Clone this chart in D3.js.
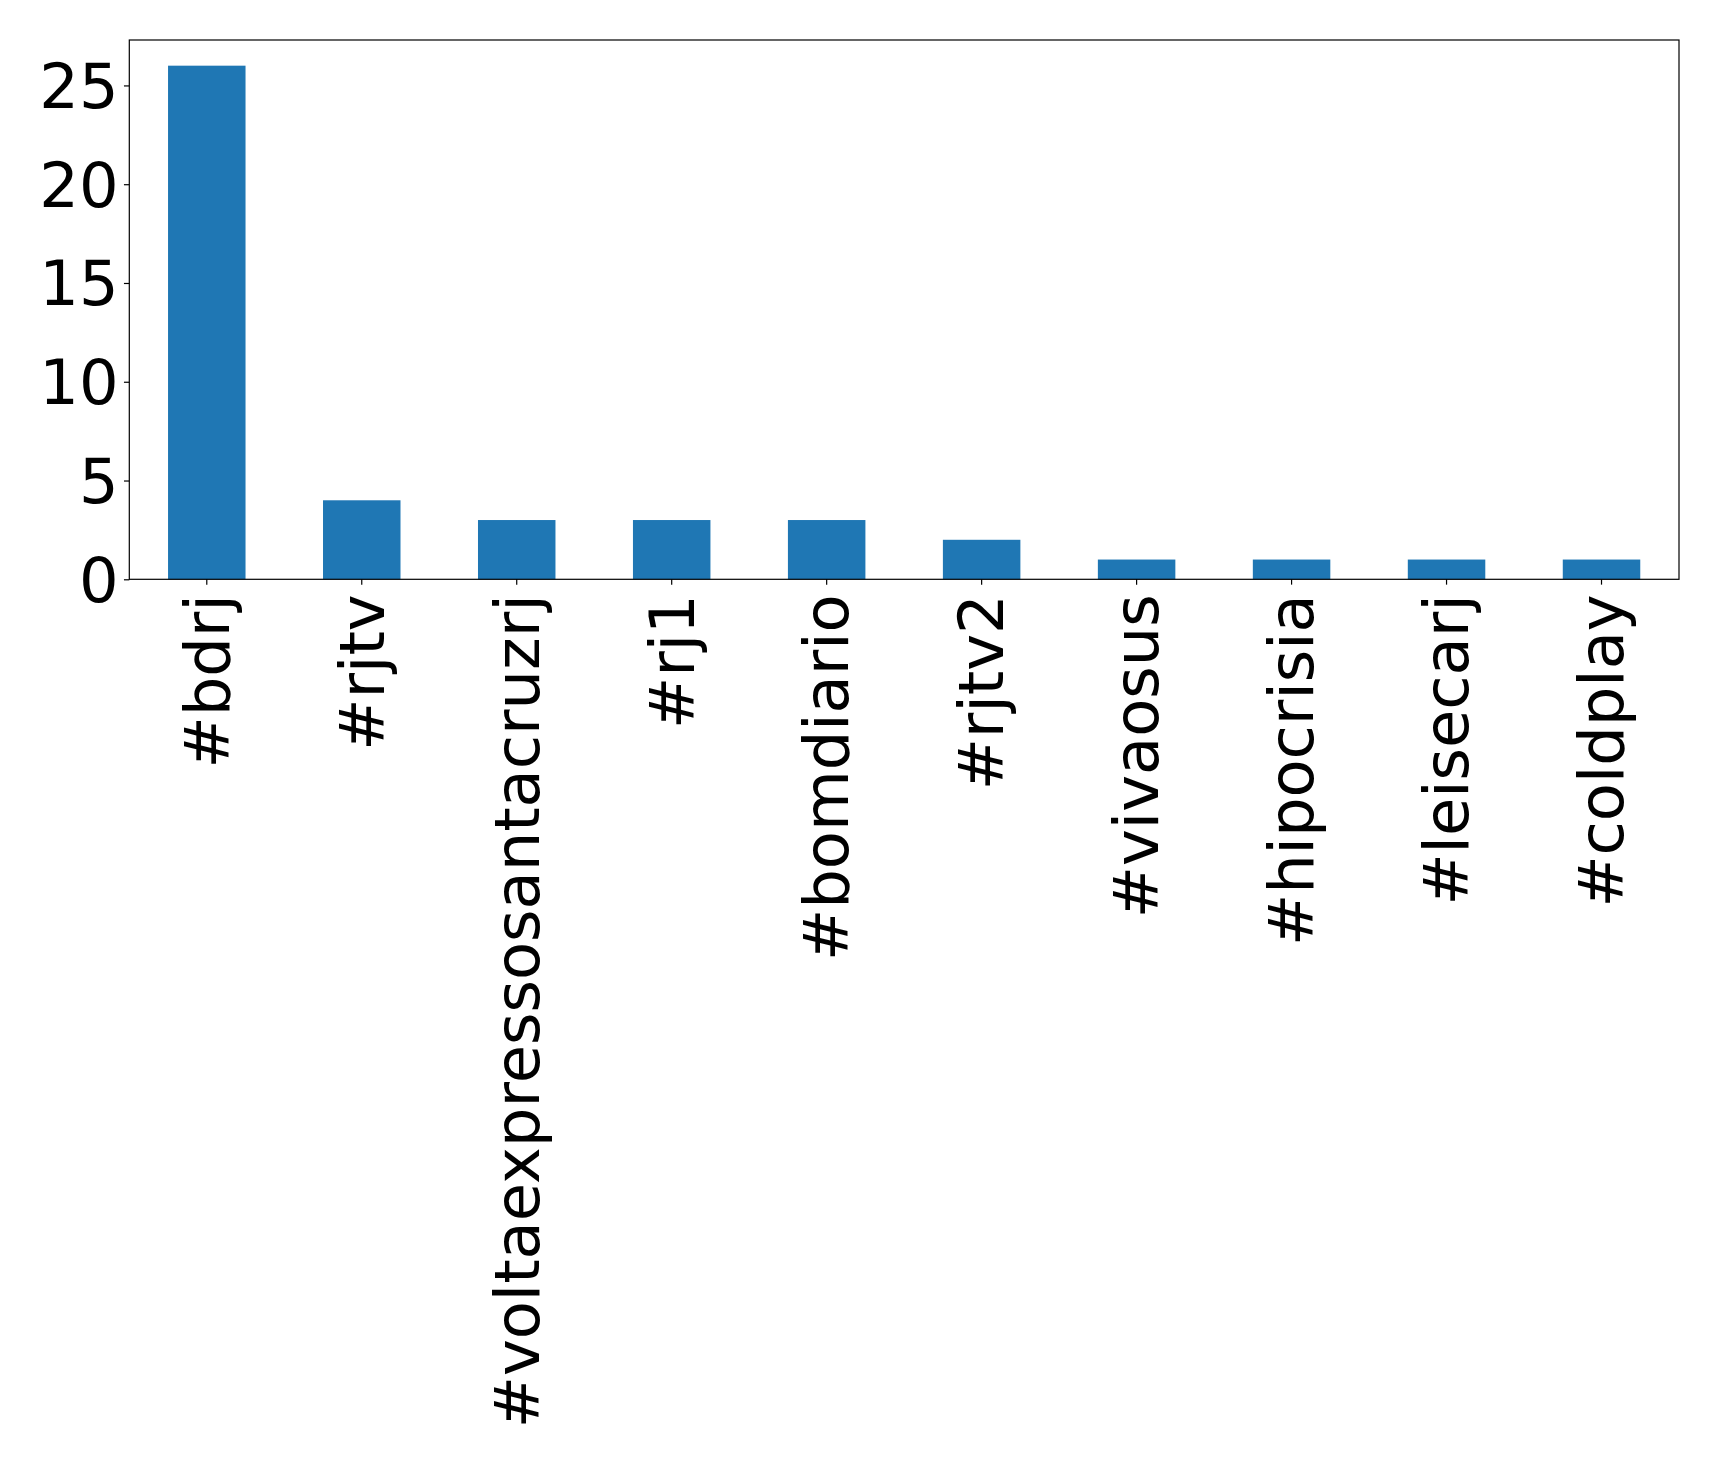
<!DOCTYPE html>
<html>
<head>
<meta charset="utf-8">
<script src="https://cdn.jsdelivr.net/npm/d3@7"></script>
<style>
  html, body { margin: 0; padding: 0; background: #fff; }
  svg { display: block; }
  text { font-family: "DejaVu Sans", sans-serif; fill: #000; }
</style>
</head>
<body>
<script>
const categories = ["#bdrj", "#rjtv", "#voltaexpressosantacruzrj", "#rj1", "#bomdiario",
                    "#rjtv2", "#vivaosus", "#hipocrisia", "#leisecarj", "#coldplay"];
const counts = [26, 4, 3, 3, 3, 2, 1, 1, 1, 1];
const yTicks = [0, 5, 10, 15, 20, 25];

(function () {
const W = 1719, H = 1465;
const mLeft = 129.3, mRight = 1679, mTop = 40, mBottom = 579.3;
const fontSize = 62.3;
const tickLen = 5.35, pad = 5.35, xLabelOffset = 15;

const svg = d3.select("body").append("svg").attr("width", W).attr("height", H);

const x = d3.scaleBand().domain(categories).range([mLeft, mRight])
  .paddingInner(0.5).paddingOuter(0.25);
const yMax = d3.max(counts) * 1.05;
const y = d3.scaleLinear().domain([0, yMax]).range([mBottom, mTop]);

svg.append("g").selectAll("rect").data(counts).join("rect")
  .attr("x", (d, i) => x(categories[i]))
  .attr("y", d => y(d))
  .attr("width", x.bandwidth())
  .attr("height", d => y(0) - y(d))
  .attr("fill", "#1f77b4");

// y axis
const yAxis = svg.append("g").attr("transform", `translate(${mLeft},0)`)
  .call(d3.axisLeft(y).tickValues(yTicks).tickSize(tickLen).tickPadding(pad).tickFormat(d3.format("d")));
yAxis.select(".domain").remove();
yAxis.selectAll("line").attr("stroke", "#000").attr("stroke-width", 1.2);
yAxis.selectAll("text").attr("font-size", fontSize).attr("font-family", "DejaVu Sans").attr("dy", "0.35em");

// x axis
const xAxis = svg.append("g").attr("transform", `translate(0,${mBottom})`)
  .call(d3.axisBottom(x).tickSize(tickLen).tickPadding(pad));
xAxis.select(".domain").remove();
xAxis.selectAll("line").attr("stroke", "#000").attr("stroke-width", 1.2);
xAxis.selectAll("text")
  .attr("font-size", fontSize).attr("font-family", "DejaVu Sans")
  .attr("text-anchor", "end")
  .attr("y", 0).attr("x", 0)
  .attr("dy", "0.35em")
  .attr("transform", `translate(0,${xLabelOffset}) rotate(-90)`);

// frame
svg.append("rect")
  .attr("x", mLeft).attr("y", mTop)
  .attr("width", mRight - mLeft).attr("height", mBottom - mTop)
  .attr("fill", "none").attr("stroke", "#000").attr("stroke-width", 1.2);
})();
</script>
</body>
</html>
